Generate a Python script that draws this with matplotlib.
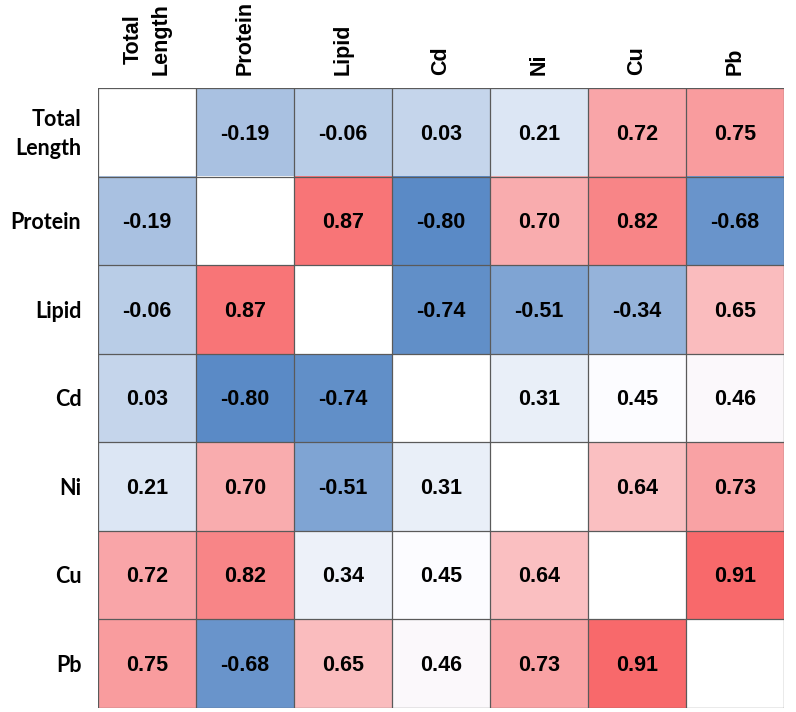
import numpy as np
import matplotlib.pyplot as plt
from matplotlib.colors import to_rgb

labels = ['Total\nLength', 'Protein', 'Lipid', 'Cd', 'Ni', 'Cu', 'Pb']

# correlation table as shown (diagonal left blank)
corr = np.array([
    [np.nan, -0.19, -0.06,  0.03,  0.21,  0.72,  0.75],
    [-0.19, np.nan,  0.87, -0.80,  0.70,  0.82, -0.68],
    [-0.06,  0.87, np.nan, -0.74, -0.51, -0.34,  0.65],
    [ 0.03, -0.80, -0.74, np.nan,  0.31,  0.45,  0.46],
    [ 0.21,  0.70, -0.51,  0.31, np.nan,  0.64,  0.73],
    [ 0.72,  0.82,  0.34,  0.45,  0.64, np.nan,  0.91],
    [ 0.75, -0.68,  0.65,  0.46,  0.73,  0.91, np.nan],
])

# excel-like 3 colour scale: min / 50th percentile / max
low_c = np.array(to_rgb('#5A8AC6'))
mid_c = np.array(to_rgb('#FCFCFF'))
high_c = np.array(to_rgb('#F8696B'))
vals = corr[~np.isnan(corr)]
vmin, vmax = vals.min(), vals.max()
vmid = np.percentile(vals, 50)


def cell_color(v):
    if np.isnan(v):
        return (1, 1, 1)
    if v <= vmid:
        t = (v - vmin) / (vmid - vmin)
        return tuple(low_c + (mid_c - low_c) * t)
    t = (v - vmid) / (vmax - vmid)
    return tuple(mid_c + (high_c - mid_c) * t)


n = len(labels)
rgb = np.array([[cell_color(corr[i, j]) for j in range(n)] for i in range(n)])

fig = plt.figure(figsize=(7.96, 7.12), dpi=100)
ax = fig.add_axes([98 / 796, 4 / 712, 686 / 796, 620 / 712])
ax.imshow(rgb, aspect='auto', extent=(0, n, n, 0), interpolation='nearest')

for k in range(n + 1):
    ax.axhline(k, color='#5a5a5a', lw=0.9)
    ax.axvline(k, color='#5a5a5a', lw=0.9)

for i in range(n):
    for j in range(n):
        if not np.isnan(corr[i, j]):
            ax.text(j + 0.5, i + 0.52, f'{corr[i, j]:.2f}', ha='center', va='center',
                    fontsize=15.5, fontweight='bold', family='Liberation Sans')

ax.set_xlim(0, n)
ax.set_ylim(n, 0)
ax.set_xticks([])
ax.set_yticks([])
for s in ax.spines.values():
    s.set_visible(False)

# column headers (rotated) and row labels
for j, lab in enumerate(labels):
    ax.text(j + 0.5, -0.15, lab, rotation=90, ha='center', va='bottom',
            fontsize=15.5, fontweight='bold', family='Liberation Sans',
            linespacing=1.45)
for i, lab in enumerate(labels):
    ax.text(-0.17, i + 0.52, lab, ha='right', va='center',
            fontsize=15.5, fontweight='bold', family='Lato', linespacing=1.45)

fig.savefig('out.png', dpi=100)
